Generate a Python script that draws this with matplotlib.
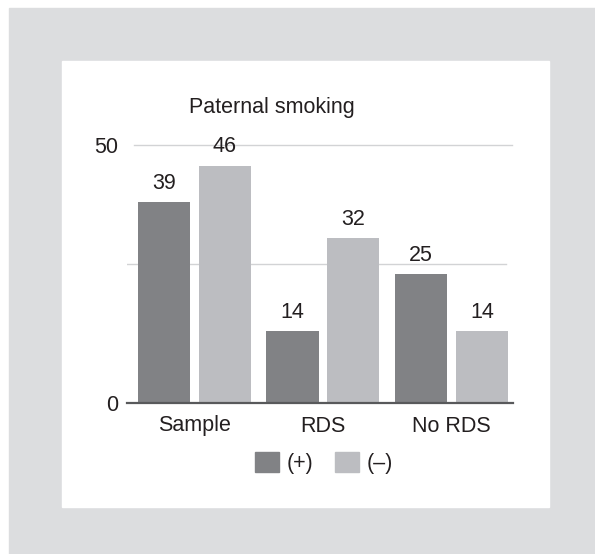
import matplotlib.pyplot as plt
import matplotlib.patches as mpatches
import numpy as np

plt.rcParams['font.family'] = ['Liberation Sans', 'DejaVu Sans']

categories = ['Sample', 'RDS', 'No RDS']
smoking_pos = [39, 14, 25]
smoking_neg = [46, 32, 14]
series_labels = ['(+)', '(\u2013)']
title = 'Paternal smoking'
yticks = [0, 50]
mid_grid = 27

dark = '#818285'
light = '#bcbdc1'
fs = 15.5

W, H = 595, 554
fig = plt.figure(figsize=(W / 100, H / 100), dpi=100)
fig.patch.set_facecolor('white')

# gray frame and white inner panel
fig.patches.append(mpatches.Rectangle((9 / W, 0), 1 - 9 / W, 1 - 8 / H,
                                      transform=fig.transFigure, color='#dcdddf', zorder=-2))
fig.patches.append(mpatches.Rectangle((62 / W, 1 - 507 / H), (549 - 62) / W, (507 - 61) / H,
                                      transform=fig.transFigure, color='white', zorder=-1))

ax = fig.add_axes([127 / W, 1 - 403 / H, 386 / W, (403 - 145) / H])
ax.patch.set_alpha(0)

x = np.arange(len(categories))
bw = 0.405
off = 0.237
b1 = ax.bar(x - off, smoking_pos, bw, color=dark, zorder=2)
b2 = ax.bar(x + off, smoking_neg, bw, color=light, zorder=2)

for bars in (b1, b2):
    for b in bars:
        ax.annotate(str(int(b.get_height())), (b.get_x() + b.get_width() / 2, b.get_height()),
                    xytext=(0, 9.5), textcoords='offset points', ha='center', va='baseline',
                    fontsize=fs, color='#231f20')

ax.set_xlim(-0.525, 2.479)
ax.set_ylim(0, 50)

ax.axhline(50, xmin=0.018, xmax=0.997, color='#d2d3d5', lw=1, zorder=1, clip_on=False)
ax.axhline(mid_grid, xmin=0.0, xmax=0.982, color='#d2d3d5', lw=1, zorder=1)

for s in ['top', 'right', 'left']:
    ax.spines[s].set_visible(False)
ax.spines['bottom'].set_color('#58595b')
ax.spines['bottom'].set_linewidth(1.6)

ax.set_yticks(yticks)
ax.set_yticklabels([str(v) for v in yticks], fontsize=fs, color='#231f20')
ax.tick_params(axis='y', length=0, pad=6)
ax.set_xticks(x)
ax.set_xticklabels(categories, fontsize=fs, color='#231f20')
ax.tick_params(axis='x', length=0, pad=9)

fig.text(272 / W, 1 - 113 / H, title, ha='center', va='baseline', fontsize=fs, color='#231f20')

handles = [mpatches.Patch(color=dark), mpatches.Patch(color=light)]
fig.legend(handles, series_labels, loc='center', bbox_to_anchor=(324 / W, 1 - 463 / H),
           ncol=2, frameon=False, fontsize=fs, handlelength=1.1, handleheight=1.1,
           handletextpad=0.35, columnspacing=1.05, labelcolor='#231f20')

fig.savefig('out.png', dpi=100)
